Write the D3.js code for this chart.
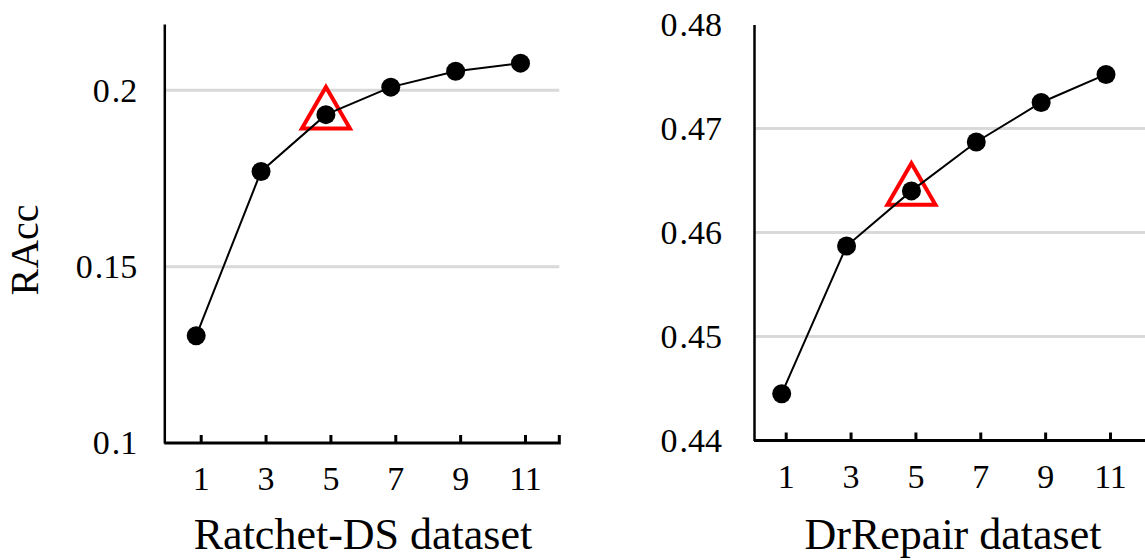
<!DOCTYPE html>
<html>
<head>
<meta charset="utf-8">
<script src="https://cdn.jsdelivr.net/npm/d3@7"></script>
<style>
  body { margin: 0; background: #fff; }
  text { font-family: "Liberation Serif", "Times New Roman", serif; fill: #000; }
</style>
</head>
<body>
<div id="chart"></div>
<script>
// data
var windowSizes = ["1", "3", "5", "7", "9", "11"];
var ratchetRAcc = [0.1304, 0.1770, 0.1931, 0.2009, 0.2054, 0.2077];
var drRepairRAcc = [0.4445, 0.4587, 0.4640, 0.4687, 0.4725, 0.4752];
var ratchetTicks = [0.1, 0.15, 0.2];
var drRepairTicks = [0.44, 0.45, 0.46, 0.47, 0.48];
var chosenSize = "5";

var svg = d3.select("#chart")
  .append("svg")
    .attr("width", 1145)
    .attr("height", 560);

function drawPanel(p) {
  var g = svg.append("g");

  var x = d3.scalePoint()
    .domain(windowSizes)
    .range([p.firstTick, p.lastTick]);

  var y = d3.scaleLinear()
    .domain(p.domain)
    .range([p.bottom, p.top]);

  // gridlines (not at the axis ends)
  g.append("g")
    .selectAll("line")
    .data(p.ticks.filter(function(d) { return d > p.domain[0] && d < p.domain[1]; }))
    .enter()
    .append("line")
      .attr("x1", p.left)
      .attr("x2", p.right)
      .attr("y1", function(d) { return y(d); })
      .attr("y2", function(d) { return y(d); })
      .style("stroke", "#d9d9d9")
      .style("stroke-width", 3);

  // y axis
  var yAxis = g.append("g")
    .attr("transform", "translate(" + p.left + ",0)")
    .call(d3.axisLeft(y).tickValues(p.ticks).tickSize(0).tickPadding(p.labelPad)
      .tickFormat(function(d) { return String(d); }));
  yAxis.select(".domain").style("stroke", "#000").style("stroke-width", 2.5);
  yAxis.selectAll("text")
    .attr("font-family", null)
    .style("font-size", "34px")
    .each(function(d) {
      var s = String(d), t = d3.select(this).text("");
      t.append("tspan").text(s.slice(0, 1));
      t.append("tspan").attr("dx", 2).text(s.slice(1));
    });

  // x axis: ticks point up into the plot
  var xAxis = g.append("g")
    .attr("transform", "translate(0," + p.bottom + ")")
    .call(d3.axisBottom(x).tickSize(-8).tickSizeOuter(0).tickPadding(23));
  xAxis.select(".domain").remove();
  xAxis.selectAll(".tick line").style("stroke", "#000").style("stroke-width", 3);
  xAxis.selectAll("text")
    .attr("font-family", null)
    .style("font-size", "34px");
  xAxis.append("path")
    .attr("d", "M" + p.left + ",0H" + p.right + "V-8")
    .style("fill", "none")
    .style("stroke", "#000")
    .style("stroke-width", 3);

  var pts = p.values.map(function(v, i) { return { k: windowSizes[i], v: v }; });
  var px = function(d) { return x(d.k) + p.shift; };

  // highlighted window size
  var sel = pts.filter(function(d) { return d.k === chosenSize; })[0];
  g.append("path")
    .attr("d", d3.symbol(d3.symbolTriangle, 1000)())
    .attr("transform", "translate(" + px(sel) + "," + y(sel.v) + ")")
    .style("fill", "none")
    .style("stroke", "#ff0000")
    .style("stroke-width", 4);

  g.append("path")
    .datum(pts)
    .attr("d", d3.line().x(px).y(function(d) { return y(d.v); }))
    .style("fill", "none")
    .style("stroke", "#000")
    .style("stroke-width", 2);

  g.append("g")
    .selectAll("circle")
    .data(pts)
    .enter()
    .append("circle")
      .attr("cx", px)
      .attr("cy", function(d) { return y(d.v); })
      .attr("r", 9.5)
      .style("fill", "#000");

  // x axis title
  g.append("text")
    .attr("x", p.titleX)
    .attr("y", 549)
    .attr("text-anchor", "middle")
    .style("font-size", "44px")
    .text(p.title);
}

drawPanel({
  left: 164.3, right: 559.3, top: 24, bottom: 443,
  firstTick: 200.7, lastTick: 525, shift: -4.5,
  domain: [0.1, 0.2188], ticks: ratchetTicks, values: ratchetRAcc,
  labelPad: 27, title: "Ratchet-DS dataset", titleX: 363
});

drawPanel({
  left: 754, right: 1152, top: 24.5, bottom: 440.5,
  firstTick: 785.7, lastTick: 1110, shift: -4,
  domain: [0.44, 0.48], ticks: drRepairTicks, values: drRepairRAcc,
  labelPad: 32, title: "DrRepair dataset", titleX: 953
});

// y axis title
svg.append("text")
  .attr("transform", "translate(38,250) rotate(-90)")
  .attr("text-anchor", "middle")
  .style("font-size", "40px")
  .text("RAcc");
</script>
</body>
</html>
